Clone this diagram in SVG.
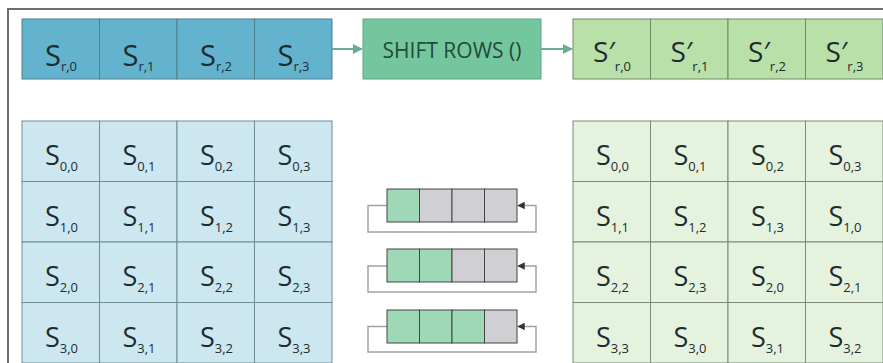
<svg xmlns="http://www.w3.org/2000/svg" width="883" height="363" viewBox="0 0 883 363">
<defs>
<style>
.t{font-family:"Open Sans","Noto Sans",sans-serif;fill:#1e2b30;text-anchor:middle}
.big{font-size:29px}
.cell{font-size:27px}
.sub{font-size:13px}
.rb{fill:#63b3cf;stroke:#4f7f8c;stroke-width:1}
.lb{fill:#cce7f0;stroke:#6f8d96;stroke-width:1}
.rg{fill:#b9e0a9;stroke:#6f8868;stroke-width:1}
.lg{fill:#e5f3de;stroke:#7b8a77;stroke-width:1}
.mg{fill:#9fd8b6;stroke:#444;stroke-width:1}
.gy{fill:#d0d0d4;stroke:#444;stroke-width:1}
.loop{fill:none;stroke:#a3a3a3;stroke-width:1.5}
.con{fill:none;stroke:#6aab9c;stroke-width:2}
</style>
<marker id="ah" viewBox="0 0 10 10" refX="9" refY="5" markerWidth="5" markerHeight="5" orient="auto"><path d="M0,0 L10,5 L0,10 z" fill="#6aab9c"/></marker>
<marker id="mh" viewBox="0 0 10 10" refX="9" refY="5" markerWidth="5" markerHeight="5" orient="auto"><path d="M0,0 L10,5 L0,10 z" fill="#333"/></marker>
</defs>
<rect x="0" y="0" width="883" height="363" fill="#ffffff"/>
<path d="M8,363 V9 H883" fill="none" stroke="#6e6e6e" stroke-width="2"/>

<g id="input-row">
<rect class="rb" x="22" y="19" width="77.5" height="60"/>
<rect class="rb" x="99.5" y="19" width="77.5" height="60"/>
<rect class="rb" x="177" y="19" width="77.5" height="60"/>
<rect class="rb" x="254.5" y="19" width="77.5" height="60"/>
<text class="t big" x="61" y="66">S<tspan class="sub" dy="5">r,0</tspan></text>
<text class="t big" x="138.5" y="66">S<tspan class="sub" dy="5">r,1</tspan></text>
<text class="t big" x="216" y="66">S<tspan class="sub" dy="5">r,2</tspan></text>
<text class="t big" x="293.5" y="66">S<tspan class="sub" dy="5">r,3</tspan></text>
</g>

<g id="shift-rows">
<rect x="363" y="19" width="178" height="60" fill="#74c69e" stroke="#5fa584" stroke-width="1"/>
<text x="452" y="58" font-family="Open Sans, Noto Sans, sans-serif" font-size="21" fill="#1f4b3b" text-anchor="middle">SHIFT ROWS ()</text>
</g>

<g id="output-row">
<rect class="rg" x="573" y="19" width="77.5" height="60"/>
<rect class="rg" x="650.5" y="19" width="77.5" height="60"/>
<rect class="rg" x="728" y="19" width="77.5" height="60"/>
<rect class="rg" x="805.5" y="19" width="77.5" height="60"/>
<text class="t big" x="612" y="62" style="font-size:28px">S′<tspan class="sub" dy="9">r,0</tspan></text>
<text class="t big" x="689.5" y="62" style="font-size:28px">S′<tspan class="sub" dy="9">r,1</tspan></text>
<text class="t big" x="767" y="62" style="font-size:28px">S′<tspan class="sub" dy="9">r,2</tspan></text>
<text class="t big" x="844.5" y="62" style="font-size:28px">S′<tspan class="sub" dy="9">r,3</tspan></text>
</g>

<g id="connectors">
<line class="con" x1="332" y1="49" x2="362" y2="49" marker-end="url(#ah)"/>
<line class="con" x1="541" y1="49" x2="572" y2="49" marker-end="url(#ah)"/>
</g>

<g id="state-grid">
<rect class="lb" x="22" y="121" width="77.5" height="60.5"/><rect class="lb" x="99.5" y="121" width="77.5" height="60.5"/><rect class="lb" x="177" y="121" width="77.5" height="60.5"/><rect class="lb" x="254.5" y="121" width="77.5" height="60.5"/>
<rect class="lb" x="22" y="181.5" width="77.5" height="60.5"/><rect class="lb" x="99.5" y="181.5" width="77.5" height="60.5"/><rect class="lb" x="177" y="181.5" width="77.5" height="60.5"/><rect class="lb" x="254.5" y="181.5" width="77.5" height="60.5"/>
<rect class="lb" x="22" y="242" width="77.5" height="60.5"/><rect class="lb" x="99.5" y="242" width="77.5" height="60.5"/><rect class="lb" x="177" y="242" width="77.5" height="60.5"/><rect class="lb" x="254.5" y="242" width="77.5" height="60.5"/>
<rect class="lb" x="22" y="302.5" width="77.5" height="60.5"/><rect class="lb" x="99.5" y="302.5" width="77.5" height="60.5"/><rect class="lb" x="177" y="302.5" width="77.5" height="60.5"/><rect class="lb" x="254.5" y="302.5" width="77.5" height="60.5"/>
<text class="t cell" x="61.5" y="165">S<tspan class="sub" dy="6">0,0</tspan></text>
<text class="t cell" x="139" y="165">S<tspan class="sub" dy="6">0,1</tspan></text>
<text class="t cell" x="216.5" y="165">S<tspan class="sub" dy="6">0,2</tspan></text>
<text class="t cell" x="294" y="165">S<tspan class="sub" dy="6">0,3</tspan></text>
<text class="t cell" x="61.5" y="225.5">S<tspan class="sub" dy="6">1,0</tspan></text>
<text class="t cell" x="139" y="225.5">S<tspan class="sub" dy="6">1,1</tspan></text>
<text class="t cell" x="216.5" y="225.5">S<tspan class="sub" dy="6">1,2</tspan></text>
<text class="t cell" x="294" y="225.5">S<tspan class="sub" dy="6">1,3</tspan></text>
<text class="t cell" x="61.5" y="286">S<tspan class="sub" dy="6">2,0</tspan></text>
<text class="t cell" x="139" y="286">S<tspan class="sub" dy="6">2,1</tspan></text>
<text class="t cell" x="216.5" y="286">S<tspan class="sub" dy="6">2,2</tspan></text>
<text class="t cell" x="294" y="286">S<tspan class="sub" dy="6">2,3</tspan></text>
<text class="t cell" x="61.5" y="346.5">S<tspan class="sub" dy="6">3,0</tspan></text>
<text class="t cell" x="139" y="346.5">S<tspan class="sub" dy="6">3,1</tspan></text>
<text class="t cell" x="216.5" y="346.5">S<tspan class="sub" dy="6">3,2</tspan></text>
<text class="t cell" x="294" y="346.5">S<tspan class="sub" dy="6">3,3</tspan></text>
</g>

<g id="shift-row-1">
<path class="loop" d="M387,205.5 H368 V232 H536 V205.5 H518" marker-end="url(#mh)"/>
<rect class="mg" x="387" y="189" width="32.5" height="33"/><rect class="gy" x="419.5" y="189" width="32.5" height="33"/><rect class="gy" x="452" y="189" width="32.5" height="33"/><rect class="gy" x="484.5" y="189" width="32.5" height="33"/>
</g>
<g id="shift-row-2">
<path class="loop" d="M387,266 H368 V292 H536 V266 H518" marker-end="url(#mh)"/>
<rect class="mg" x="387" y="249" width="32.5" height="33"/><rect class="mg" x="419.5" y="249" width="32.5" height="33"/><rect class="gy" x="452" y="249" width="32.5" height="33"/><rect class="gy" x="484.5" y="249" width="32.5" height="33"/>
</g>
<g id="shift-row-3">
<path class="loop" d="M387,326.5 H368 V352 H536 V326.5 H518" marker-end="url(#mh)"/>
<rect class="mg" x="387" y="310" width="32.5" height="33"/><rect class="mg" x="419.5" y="310" width="32.5" height="33"/><rect class="mg" x="452" y="310" width="32.5" height="33"/><rect class="gy" x="484.5" y="310" width="32.5" height="33"/>
</g>

<g id="shifted-grid">
<rect class="lg" x="573" y="121" width="77.5" height="60.5"/><rect class="lg" x="650.5" y="121" width="77.5" height="60.5"/><rect class="lg" x="728" y="121" width="77.5" height="60.5"/><rect class="lg" x="805.5" y="121" width="77.5" height="60.5"/>
<rect class="lg" x="573" y="181.5" width="77.5" height="60.5"/><rect class="lg" x="650.5" y="181.5" width="77.5" height="60.5"/><rect class="lg" x="728" y="181.5" width="77.5" height="60.5"/><rect class="lg" x="805.5" y="181.5" width="77.5" height="60.5"/>
<rect class="lg" x="573" y="242" width="77.5" height="60.5"/><rect class="lg" x="650.5" y="242" width="77.5" height="60.5"/><rect class="lg" x="728" y="242" width="77.5" height="60.5"/><rect class="lg" x="805.5" y="242" width="77.5" height="60.5"/>
<rect class="lg" x="573" y="302.5" width="77.5" height="60.5"/><rect class="lg" x="650.5" y="302.5" width="77.5" height="60.5"/><rect class="lg" x="728" y="302.5" width="77.5" height="60.5"/><rect class="lg" x="805.5" y="302.5" width="77.5" height="60.5"/>
<text class="t cell" x="612.5" y="165">S<tspan class="sub" dy="6">0,0</tspan></text>
<text class="t cell" x="690" y="165">S<tspan class="sub" dy="6">0,1</tspan></text>
<text class="t cell" x="767.5" y="165">S<tspan class="sub" dy="6">0,2</tspan></text>
<text class="t cell" x="845" y="165">S<tspan class="sub" dy="6">0,3</tspan></text>
<text class="t cell" x="612.5" y="225.5">S<tspan class="sub" dy="6">1,1</tspan></text>
<text class="t cell" x="690" y="225.5">S<tspan class="sub" dy="6">1,2</tspan></text>
<text class="t cell" x="767.5" y="225.5">S<tspan class="sub" dy="6">1,3</tspan></text>
<text class="t cell" x="845" y="225.5">S<tspan class="sub" dy="6">1,0</tspan></text>
<text class="t cell" x="612.5" y="286">S<tspan class="sub" dy="6">2,2</tspan></text>
<text class="t cell" x="690" y="286">S<tspan class="sub" dy="6">2,3</tspan></text>
<text class="t cell" x="767.5" y="286">S<tspan class="sub" dy="6">2,0</tspan></text>
<text class="t cell" x="845" y="286">S<tspan class="sub" dy="6">2,1</tspan></text>
<text class="t cell" x="612.5" y="346.5">S<tspan class="sub" dy="6">3,3</tspan></text>
<text class="t cell" x="690" y="346.5">S<tspan class="sub" dy="6">3,0</tspan></text>
<text class="t cell" x="767.5" y="346.5">S<tspan class="sub" dy="6">3,1</tspan></text>
<text class="t cell" x="845" y="346.5">S<tspan class="sub" dy="6">3,2</tspan></text>
</g>
</svg>
